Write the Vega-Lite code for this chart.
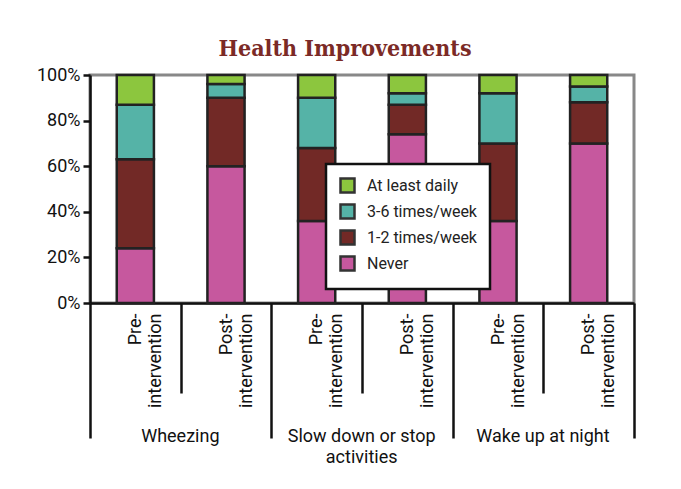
{
  "$schema": "https://vega.github.io/schema/vega-lite/v6.json",
  "width": 544,
  "height": 228,
  "padding": {"left": 36, "top": 38, "right": 5, "bottom": 5},
  "background": "white",
  "title": {"text": "Health Improvements", "font": "DejaVu Serif Condensed, DejaVu Serif", "fontSize": 23, "fontWeight": "bold", "color": "#7b2a26", "anchor": "middle", "offset": 5, "dx": -17},
  "data": {"values": [
    {"bar": "Wheezing|Pre", "status": "Never", "pct": 24},
    {"bar": "Wheezing|Pre", "status": "1-2 times/week", "pct": 39},
    {"bar": "Wheezing|Pre", "status": "3-6 times/week", "pct": 24},
    {"bar": "Wheezing|Pre", "status": "At least daily", "pct": 13},
    {"bar": "Wheezing|Post", "status": "Never", "pct": 60},
    {"bar": "Wheezing|Post", "status": "1-2 times/week", "pct": 30},
    {"bar": "Wheezing|Post", "status": "3-6 times/week", "pct": 6},
    {"bar": "Wheezing|Post", "status": "At least daily", "pct": 4},
    {"bar": "Slow down or stop activities|Pre", "status": "Never", "pct": 36},
    {"bar": "Slow down or stop activities|Pre", "status": "1-2 times/week", "pct": 32},
    {"bar": "Slow down or stop activities|Pre", "status": "3-6 times/week", "pct": 22},
    {"bar": "Slow down or stop activities|Pre", "status": "At least daily", "pct": 10},
    {"bar": "Slow down or stop activities|Post", "status": "Never", "pct": 74},
    {"bar": "Slow down or stop activities|Post", "status": "1-2 times/week", "pct": 13},
    {"bar": "Slow down or stop activities|Post", "status": "3-6 times/week", "pct": 5},
    {"bar": "Slow down or stop activities|Post", "status": "At least daily", "pct": 8},
    {"bar": "Wake up at night|Pre", "status": "Never", "pct": 36},
    {"bar": "Wake up at night|Pre", "status": "1-2 times/week", "pct": 34},
    {"bar": "Wake up at night|Pre", "status": "3-6 times/week", "pct": 22},
    {"bar": "Wake up at night|Pre", "status": "At least daily", "pct": 8},
    {"bar": "Wake up at night|Post", "status": "Never", "pct": 70},
    {"bar": "Wake up at night|Post", "status": "1-2 times/week", "pct": 18},
    {"bar": "Wake up at night|Post", "status": "3-6 times/week", "pct": 7},
    {"bar": "Wake up at night|Post", "status": "At least daily", "pct": 5}
  ]},
  "layer": [
    {
      "transform": [{"calculate": "indexof(['At least daily','3-6 times/week','1-2 times/week','Never'], datum.status)", "as": "rank"}],
      "mark": {"type": "bar", "width": {"band": 0.41}, "stroke": "#222", "strokeWidth": 2.5},
      "encoding": {
        "x": {
          "field": "bar", "type": "nominal", "sort": null,
          "scale": {"paddingInner": 0, "paddingOuter": 0},
          "axis": {
            "title": null,
            "tickBand": "extent",
            "domainColor": "#111", "domainWidth": 2.5,
            "tickColor": "#111", "tickWidth": 2.5,
            "tickSize": {"condition": {"test": "isString(datum.value) && !datum.extra && indexof(datum.value, '|Pre') > 0", "value": 90}, "value": 135},
            "labelPadding": {"condition": {"test": "isString(datum.value) && !datum.extra && indexof(datum.value, '|Pre') > 0", "value": -80}, "value": -125},
            "labelAngle": -90,
            "labelExpr": "!isString(datum.label) || datum.label === '' ? '' : (indexof(datum.label, '|Pre') > 0 ? ['Pre-', 'intervention'] : ['Post-', 'intervention'])",
            "labelFont": "Roboto", "labelFontSize": 18, "labelColor": "#111",
            "labelLineHeight": 20
          }
        },
        "y": {
          "field": "pct", "type": "quantitative", "stack": "normalize",
          "scale": {"domain": [0, 1]},
          "axis": {
            "title": null, "format": ".0%", "values": [0, 0.2, 0.4, 0.6, 0.8, 1],
            "grid": false, "domainColor": "#111", "domainWidth": 2.5,
            "tickColor": "#111", "tickWidth": 2.5, "tickSize": 7,
            "labelFont": "Roboto", "labelFontSize": 18, "labelColor": "#111", "labelPadding": 3
          }
        },
        "color": {
          "field": "status", "type": "nominal",
          "scale": {"domain": ["At least daily", "3-6 times/week", "1-2 times/week", "Never"], "range": ["#8cc63e", "#55b3a7", "#722926", "#c6589e"]},
          "legend": {
            "title": null, "orient": "none", "legendX": 236, "legendY": 89,
            "fillColor": "white", "strokeColor": "#111", "padding": 13,
            "symbolType": "square", "symbolSize": 196,
            "symbolStrokeColor": "#333", "symbolStrokeWidth": 2.5,
            "labelFont": "Roboto", "labelFontSize": 16, "labelColor": "#222", "rowPadding": 1, "labelOffset": 11,
            "encode": {"symbols": {
              "enter": {"stroke": {"value": "#333"}, "strokeWidth": {"value": 2.5}, "strokeOpacity": {"value": 1}},
              "update": {"stroke": {"value": "#333"}, "strokeWidth": {"value": 2.5}, "strokeOpacity": {"value": 1}}
            }}
          }
        },
        "order": {"field": "rank", "sort": "descending"}
      }
    },
    {
      "mark": {"type": "text", "text": ""},
      "encoding": {
        "x": {
          "field": "bar", "type": "nominal", "sort": null,
          "axis": {
            "title": null, "orient": "bottom", "offset": 124,
            "values": ["Wheezing|Pre", "Slow down or stop activities|Pre", "Wake up at night|Pre"],
            "ticks": false, "domain": false, "labelAngle": 0, "labelAlign": "center", "labelBaseline": "top",
            "labelOffset": 45, "labelPadding": 0, "labelLimit": 300,
            "labelExpr": "split(datum.label, '|')[0] === 'Slow down or stop activities' ? ['Slow down or stop', 'activities'] : split(datum.label, '|')[0]",
            "labelFont": "Roboto", "labelFontSize": 18, "labelColor": "#111", "labelLineHeight": 21
          }
        }
      }
    }
  ],
  "resolve": {"axis": {"x": "independent"}},
  "config": {"view": {"stroke": "#888", "strokeWidth": 3}, "legend": {"strokeWidth": 2.5, "symbolStrokeColor": "#333", "symbolStrokeWidth": 2.5}}
}
